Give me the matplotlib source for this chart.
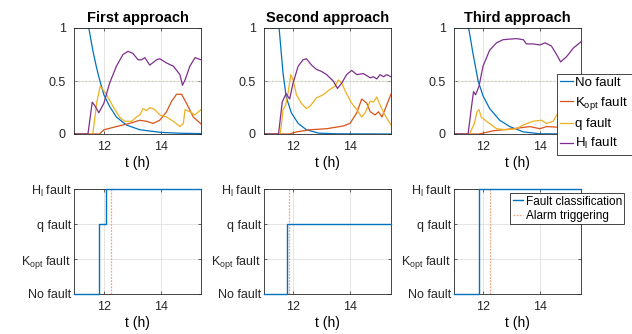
import numpy as np
import matplotlib
matplotlib.use("Agg")
import matplotlib.pyplot as plt

plt.rcParams['font.family'] = ['Liberation Sans', 'DejaVu Sans']
plt.rcParams['mathtext.default'] = 'regular'

# MATLAB-like colours
c_no, c_k, c_q, c_h = '#0072BD', '#D95319', '#EDB120', '#7E2F8E'

titles = ['First approach', 'Second approach', 'Third approach']
labels_prob = ['No fault', r'$K_{opt}$ fault', 'q fault', r'$H_l$ fault']
labels_class = ['No fault', r'$K_{opt}$ fault', 'q fault', r'$H_l$ fault']

# ---- First approach: probabilities ----
t1_no = [10.95, 11.47, 11.61, 11.73, 11.85, 12.0, 12.2, 12.44, 12.79, 13.26, 14.0, 14.7, 15.41]
p1_no = [1, 1, 0.79, 0.64, 0.51, 0.37, 0.26, 0.16, 0.085, 0.04, 0.015, 0.007, 0.004]
t1_k = [10.95, 11.85, 12.0, 12.44, 12.9, 13.26, 13.5, 13.73, 13.96, 14.2, 14.38, 14.55, 14.73, 14.9, 15.14, 15.41]
p1_k = [0, 0, 0.04, 0.07, 0.10, 0.13, 0.12, 0.10, 0.13, 0.21, 0.31, 0.375, 0.375, 0.29, 0.16, 0.095]
t1_q = [10.95, 11.61, 11.75, 11.87, 12.08, 12.32, 12.55, 12.73, 12.97, 13.14, 13.26, 13.38, 13.5, 13.61,
        13.79, 13.96, 14.2, 14.44, 14.67, 14.79, 14.85, 15.02, 15.2, 15.41]
p1_q = [0, 0, 0.3, 0.45, 0.38, 0.26, 0.16, 0.12, 0.12, 0.16, 0.18, 0.24, 0.22, 0.25,
        0.23, 0.18, 0.16, 0.12, 0.07, 0.1, 0.23, 0.21, 0.18, 0.23]
t1_h = [10.95, 11.44, 11.59, 11.7, 11.82, 12.0, 12.2, 12.44, 12.67, 12.85, 13.02, 13.2, 13.32, 13.44,
        13.61, 13.85, 13.96, 14.2, 14.44, 14.67, 14.76, 14.85, 15.02, 15.2, 15.41]
p1_h = [0, 0, 0.30, 0.26, 0.2, 0.29, 0.48, 0.64, 0.75, 0.78, 0.76, 0.70, 0.70, 0.72,
        0.65, 0.70, 0.71, 0.67, 0.64, 0.56, 0.46, 0.51, 0.64, 0.72, 0.70]

# ---- Second approach ----
t2_no = [10.98, 11.51, 11.65, 11.76, 11.94, 12.18, 12.47, 12.9, 13.5, 15.44]
p2_no = [1, 1, 0.57, 0.35, 0.2, 0.1, 0.04, 0.008, 0.002, 0.0]
t2_k = [10.98, 11.88, 12.12, 12.59, 13.18, 13.76, 14.0, 14.24, 14.41, 14.59, 14.71, 14.88, 15.0, 15.12, 15.24, 15.44]
p2_k = [0, 0, 0.02, 0.04, 0.05, 0.075, 0.1, 0.2, 0.33, 0.29, 0.21, 0.18, 0.21, 0.16, 0.24, 0.375]
t2_q = [10.98, 11.55, 11.65, 11.74, 11.82, 11.92, 12.0, 12.12, 12.29, 12.47, 12.59, 12.82, 13.06, 13.29,
        13.47, 13.59, 13.71, 13.88, 14.06, 14.24, 14.41, 14.53, 14.71, 14.82, 14.94, 15.0, 15.18, 15.44]
p2_q = [0, 0, 0.23, 0.27, 0.38, 0.56, 0.51, 0.37, 0.29, 0.24, 0.26, 0.34, 0.37, 0.42,
        0.45, 0.51, 0.48, 0.38, 0.29, 0.23, 0.16, 0.2, 0.31, 0.30, 0.35, 0.31, 0.2, 0.085]
t2_h = [10.98, 11.49, 11.62, 11.7, 11.76, 11.88, 12.0, 12.18, 12.35, 12.47, 12.65, 12.82, 13.0, 13.18,
        13.41, 13.56, 13.71, 13.88, 14.06, 14.24, 14.47, 14.71, 14.82, 14.94, 15.06, 15.18, 15.29, 15.44]
p2_h = [0, 0, 0.3, 0.35, 0.38, 0.33, 0.48, 0.64, 0.70, 0.71, 0.65, 0.61, 0.59, 0.56,
        0.50, 0.43, 0.48, 0.56, 0.60, 0.56, 0.57, 0.53, 0.54, 0.52, 0.56, 0.54, 0.56, 0.54]

# ---- Third approach ----
t3_no = [10.99, 11.5, 11.65, 11.83, 12.0, 12.23, 12.58, 12.93, 13.4, 13.98, 15.41]
p3_no = [1, 1, 0.76, 0.5, 0.36, 0.24, 0.13, 0.07, 0.02, 0.002, 0.0]
t3_k = [10.99, 11.86, 12.35, 13.05, 13.63, 13.98, 14.21, 14.56, 15.0, 15.41]
p3_k = [0, 0, 0.03, 0.05, 0.07, 0.05, 0.07, 0.065, 0.07, 0.07]
t3_q = [10.99, 11.53, 11.7, 11.79, 11.86, 11.94, 12.12, 12.47, 12.81, 13.16, 13.4, 13.74, 14.03, 14.21,
        14.44, 14.56, 14.8, 15.1, 15.41]
p3_q = [0, 0, 0.1, 0.21, 0.23, 0.16, 0.12, 0.05, 0.04, 0.05, 0.085, 0.12, 0.13, 0.1,
        0.12, 0.18, 0.17, 0.2, 0.18]
t3_h = [10.99, 11.48, 11.6, 11.67, 11.74, 11.86, 12.0, 12.23, 12.47, 12.7, 13.16, 13.4, 13.51, 13.74,
        13.98, 14.16, 14.38, 14.56, 14.7, 14.91, 15.14, 15.41]
p3_h = [0, 0, 0.26, 0.4, 0.37, 0.45, 0.64, 0.79, 0.86, 0.89, 0.9, 0.89, 0.85, 0.85,
        0.84, 0.86, 0.83, 0.75, 0.68, 0.73, 0.81, 0.87]

# ---- Classification steps (0 No, 1 Kopt, 2 q, 3 Hl) ----
tc1 = [10.95, 11.83, 12.09, 15.41]
cl1 = [0, 2, 3, 3]
tc2 = [10.98, 11.79, 15.44]
cl2 = [0, 2, 2]
tc3 = [10.99, 11.87, 15.41]
cl3 = [0, 3, 3]
alarms = [12.25, 11.86, 12.26]

prob_sets = [
    [(t1_no, p1_no), (t1_k, p1_k), (t1_q, p1_q), (t1_h, p1_h)],
    [(t2_no, p2_no), (t2_k, p2_k), (t2_q, p2_q), (t2_h, p2_h)],
    [(t3_no, p3_no), (t3_k, p3_k), (t3_q, p3_q), (t3_h, p3_h)],
]
class_sets = [(tc1, cl1), (tc2, cl2), (tc3, cl3)]
xlims = [(10.95, 15.41), (10.98, 15.44), (10.99, 15.41)]

fig = plt.figure(figsize=(6.32, 3.34), dpi=100)
lefts = [74 / 632, 264 / 632, 454 / 632]
w = 127 / 632
colors = [c_no, c_k, c_q, c_h]


def style_ax(ax, ypad):
    for s in ax.spines.values():
        s.set_color('#262626')
        s.set_linewidth(0.6)
    ax.tick_params(direction='in', length=2.5, width=0.5, labelsize=9, colors='#262626',
                   top=True, right=True)
    ax.tick_params(axis='x', pad=5)
    ax.tick_params(axis='y', pad=ypad)
    ax.grid(True, color='#e0e0e0', linewidth=0.6)
    ax.set_axisbelow(True)


for i in range(3):
    ax = fig.add_axes([lefts[i], 1 - 134 / 334, w, 106 / 334])
    style_ax(ax, 6)
    ax.axhline(0.5, color='#c5d3ad', linestyle=':', linewidth=1.0, zorder=1)
    for (tt, pp), c, lab in zip(prob_sets[i], colors, labels_prob):
        ax.plot(tt, pp, color=c, linewidth=0.9, label=lab)
    ax.set_xlim(*xlims[i])
    ax.set_ylim(0, 1)
    ax.set_xticks([12, 14])
    ax.set_yticks([0, 0.5, 1])
    ax.set_yticklabels(['0', '0.5', '1'])
    ax.set_title(titles[i], fontsize=10.5, fontweight='bold', pad=4)
    ax.set_xlabel('t (h)', fontsize=10, labelpad=2)
    if i == 2:
        leg = ax.legend(loc='upper left', bbox_to_anchor=(0.81, 0.57), fontsize=9.5,
                        frameon=True, fancybox=False, handlelength=1.0, handletextpad=0.15,
                        borderpad=0.25, labelspacing=0.45, borderaxespad=0)
        leg.get_frame().set_edgecolor('#262626')
        leg.get_frame().set_linewidth(0.6)
        leg.get_frame().set_alpha(1)

    ax2 = fig.add_axes([lefts[i], 1 - 294 / 334, w, 105 / 334])
    style_ax(ax2, 2)
    tt, cc = class_sets[i]
    ax2.step(tt, cc, where='post', color=c_no, linewidth=1.0, label='Fault classification',
             clip_on=False, zorder=3)
    ax2.axvline(alarms[i], color='#f4a582', linestyle='--', linewidth=0.9,
                dashes=(1.5, 1), label='Alarm triggering')
    ax2.set_xlim(*xlims[i])
    ax2.set_ylim(0, 3)
    ax2.set_xticks([12, 14])
    ax2.set_yticks([0, 1, 2, 3])
    ax2.set_yticklabels(labels_class)
    ax2.set_xlabel('t (h)', fontsize=10, labelpad=2)
    if i == 2:
        leg2 = ax2.legend(loc='upper right', bbox_to_anchor=(1.34, 0.96), fontsize=8.5,
                          frameon=True, fancybox=False, handlelength=0.9, handletextpad=0.2,
                          borderpad=0.2, labelspacing=0.2, borderaxespad=0)
        leg2.get_frame().set_edgecolor('#262626')
        leg2.get_frame().set_linewidth(0.6)
        leg2.get_frame().set_alpha(1)

fig.savefig('out.png', dpi=100)
